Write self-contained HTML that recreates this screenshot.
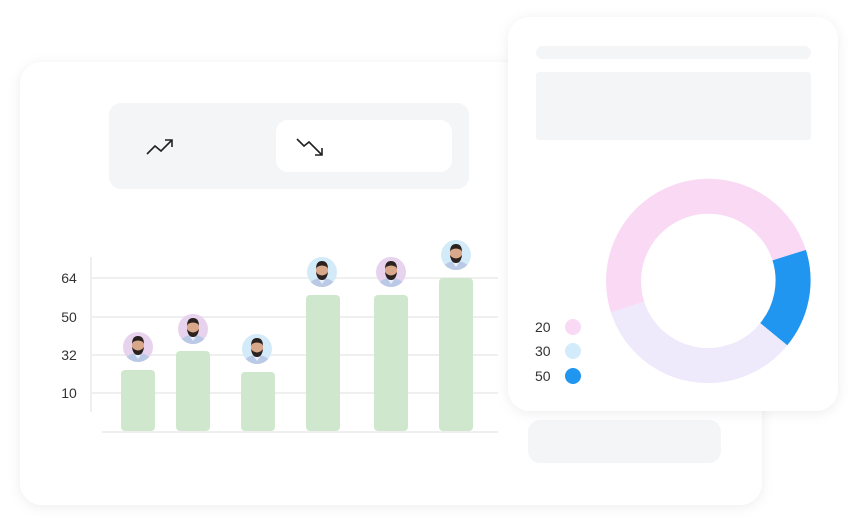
<!DOCTYPE html>
<html><head><meta charset="utf-8"><style>
html,body{margin:0;padding:0;background:#fff;width:857px;height:525px;overflow:hidden}
svg{display:block}
text{font-family:"Liberation Sans",sans-serif}
</style></head><body>
<svg width="857" height="525" viewBox="0 0 857 525" xmlns="http://www.w3.org/2000/svg">
<defs>
<filter id="sh" x="-10%" y="-10%" width="120%" height="120%"><feDropShadow dx="0" dy="2" stdDeviation="6" flood-color="#000" flood-opacity="0.07"/></filter>
<clipPath id="av"><circle r="15"/></clipPath>
<g id="face" clip-path="url(#av)">
<ellipse cx="0" cy="16" rx="14" ry="10" fill="#b9c9e6"/>
<path d="M-3 8 L0 12 L3 8 Z" fill="#e8eef8"/>
<ellipse cx="0" cy="-1" rx="6" ry="7.5" fill="#d9a88a"/>
<path d="M-6 -3 Q-6 -11 0 -11 Q6 -11 6 -3 L5 -5 Q0 -8 -5 -5 Z" fill="#2b2220"/>
<path d="M-6 0 Q-5 8 0 8 Q5 8 6 0 Q4 3 0 3.5 Q-4 3 -6 0 Z" fill="#2b2220"/>
</g>
</defs>
<!-- main card -->
<rect x="20" y="62" width="742" height="443" rx="22" fill="#fff" filter="url(#sh)"/>
<rect x="109" y="103" width="360" height="86" rx="12" fill="#f4f5f7"/>
<rect x="276" y="120" width="176" height="52" rx="12" fill="#fff"/>
<path d="M147 154 L155 146 L161 151 L172 140 M165 140 L172 140 L172 147" fill="none" stroke="#222" stroke-width="1.6"/>
<path d="M297 139 L304 146 L309 142 L322 155 M322 148 L322 155 L315 155" fill="none" stroke="#222" stroke-width="1.6"/>
<!-- grid -->
<g stroke="#efefef" stroke-width="2">
<line x1="90" y1="278" x2="498" y2="278"/>
<line x1="90" y1="317" x2="498" y2="317"/>
<line x1="90" y1="355" x2="498" y2="355"/>
<line x1="90" y1="393" x2="498" y2="393"/>
<line x1="102" y1="432" x2="498" y2="432"/>
<line x1="91" y1="257" x2="91" y2="412"/>
</g>
<g font-size="14" fill="#333" text-anchor="middle">
<text x="69" y="283">64</text><text x="69" y="322">50</text><text x="69" y="360">32</text><text x="69" y="398">10</text>
</g>
<g fill="#cfe8cd">
<rect x="121" y="370" width="34" height="61" rx="4"/>
<rect x="176" y="351" width="34" height="80" rx="4"/>
<rect x="241" y="372" width="34" height="59" rx="4"/>
<rect x="306" y="295" width="34" height="136" rx="4"/>
<rect x="374" y="295" width="34" height="136" rx="4"/>
<rect x="439" y="278" width="34" height="153" rx="4"/>
</g>
<g>
<circle cx="138" cy="347" r="15" fill="#e8d3ee"/><use href="#face" x="138" y="347"/>
<circle cx="193" cy="329" r="15" fill="#e8d3ee"/><use href="#face" x="193" y="329"/>
<circle cx="257" cy="349" r="15" fill="#d3ebf8"/><use href="#face" x="257" y="349"/>
<circle cx="322" cy="272" r="15" fill="#d3ebf8"/><use href="#face" x="322" y="272"/>
<circle cx="391" cy="272" r="15" fill="#e8d3ee"/><use href="#face" x="391" y="272"/>
<circle cx="456" cy="255" r="15" fill="#d3ebf8"/><use href="#face" x="456" y="255"/>
</g>
<rect x="528" y="420" width="193" height="43" rx="12" fill="#f4f5f7"/>
<!-- right card -->
<rect x="508" y="17" width="330" height="394" rx="22" fill="#fff" filter="url(#sh)"/>
<rect x="536" y="46" width="275" height="13" rx="6.5" fill="#f4f5f7"/>
<rect x="536" y="72" width="275" height="68" rx="3" fill="#f4f5f7"/>
<g fill="none" stroke-width="35">
<path d="M627.6 307.1 A84.5 84.5 0 0 1 789.2 255.1" stroke="#fad9f5"/>
<path d="M789.2 255.1 A84.5 84.5 0 0 1 773.7 334.2" stroke="#2196f0"/>
<path d="M773.7 334.2 A84.5 84.5 0 0 1 627.6 307.1" stroke="#eee9fb"/>
</g>
<g font-size="14" fill="#333">
<text x="535" y="332">20</text><text x="535" y="356">30</text><text x="535" y="381">50</text>
</g>
<circle cx="573" cy="327" r="8" fill="#fad9f5"/>
<circle cx="573" cy="351" r="8" fill="#d3ecfb"/>
<circle cx="573" cy="376" r="8" fill="#2196f0"/>
</svg>
</body></html>
